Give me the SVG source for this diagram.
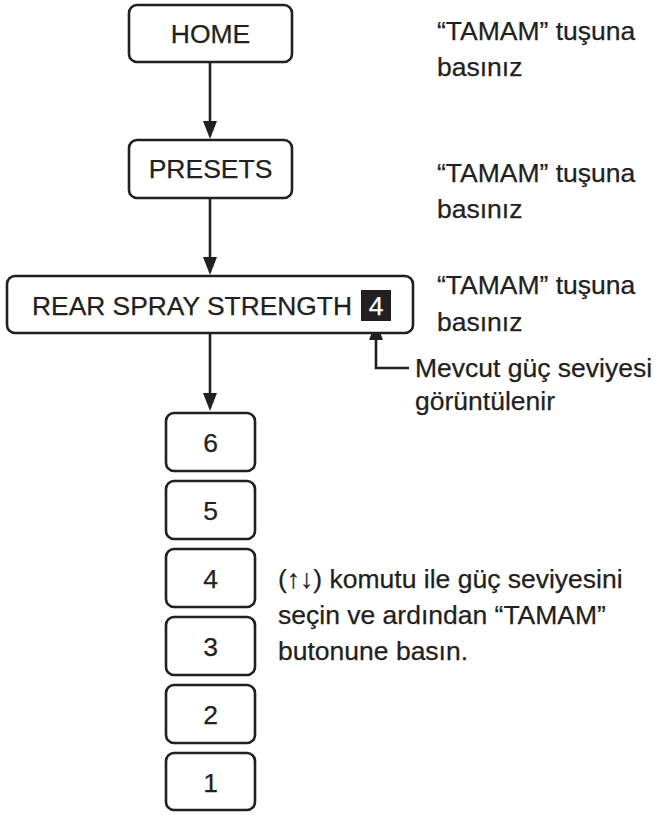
<svg xmlns="http://www.w3.org/2000/svg" width="656" height="815" viewBox="0 0 656 815">
<defs>
<style>
.box{fill:#fff;stroke:#231f20;stroke-width:2.6}
.t{font-family:"Liberation Sans",Arial,sans-serif;font-size:26.5px;fill:#231f20;stroke:#231f20;stroke-width:0.25}
.c{text-anchor:middle}
.ln{stroke:#231f20;stroke-width:2.6;fill:none}
.ah{fill:#231f20}
</style>
</defs>
<rect width="656" height="815" fill="#fff"/>
<g id="connectors">
<line class="ln" x1="210" y1="62" x2="210" y2="124"/>
<polygon class="ah" points="203,121 217,121 210,139"/>
<line class="ln" x1="210" y1="198" x2="210" y2="260"/>
<polygon class="ah" points="203,257 217,257 210,275"/>
<line class="ln" x1="210" y1="333" x2="210" y2="396"/>
<polygon class="ah" points="203,393 217,393 210,411"/>
<polyline class="ln" points="409,368 376,368 376,336"/>
<polygon class="ah" points="369,340 383,340 376,322"/>
</g>
<g id="home">
<rect class="box" x="129" y="5" width="163" height="57" rx="8"/>
<text class="t c" x="210.5" y="43">HOME</text>
</g>
<g id="presets">
<rect class="box" x="129" y="140" width="163" height="58" rx="8"/>
<text class="t c" x="210.5" y="178">PRESETS</text>
</g>
<g id="rear">
<rect class="box" x="7" y="276" width="406" height="57" rx="8"/>
<text class="t" x="32" y="315" textLength="320" lengthAdjust="spacingAndGlyphs">REAR SPRAY STRENGTH</text>
<rect x="361" y="290" width="30" height="31" fill="#231f20"/>
<text class="t c" x="376" y="315" style="fill:#fff;stroke:#fff">4</text>
</g>
<g id="l6"><rect class="box" x="166" y="413" width="89" height="58" rx="8"/><text class="t c" x="210.5" y="452">6</text></g>
<g id="l5"><rect class="box" x="166" y="481" width="89" height="58" rx="8"/><text class="t c" x="210.5" y="520">5</text></g>
<g id="l4"><rect class="box" x="166" y="549" width="89" height="58" rx="8"/><text class="t c" x="210.5" y="588">4</text></g>
<g id="l3"><rect class="box" x="166" y="617" width="89" height="58" rx="8"/><text class="t c" x="210.5" y="656">3</text></g>
<g id="l2"><rect class="box" x="166" y="685" width="89" height="58" rx="8"/><text class="t c" x="210.5" y="724">2</text></g>
<g id="l1"><rect class="box" x="166" y="753" width="89" height="57" rx="8"/><text class="t c" x="210.5" y="792">1</text></g>
<g id="notes">
<text class="t" x="437" y="40">“TAMAM” tuşuna</text>
<text class="t" x="437" y="76">basınız</text>
<text class="t" x="437" y="182">“TAMAM” tuşuna</text>
<text class="t" x="437" y="218">basınız</text>
<text class="t" x="437" y="294">“TAMAM” tuşuna</text>
<text class="t" x="437" y="331">basınız</text>
<text class="t" x="415" y="377">Mevcut güç seviyesi</text>
<text class="t" x="415" y="410">görüntülenir</text>
<text class="t" x="278" y="588">(↑↓) komutu ile güç seviyesini</text>
<text class="t" x="278" y="624">seçin ve ardından “TAMAM”</text>
<text class="t" x="278" y="660">butonune basın.</text>
</g>
</svg>
